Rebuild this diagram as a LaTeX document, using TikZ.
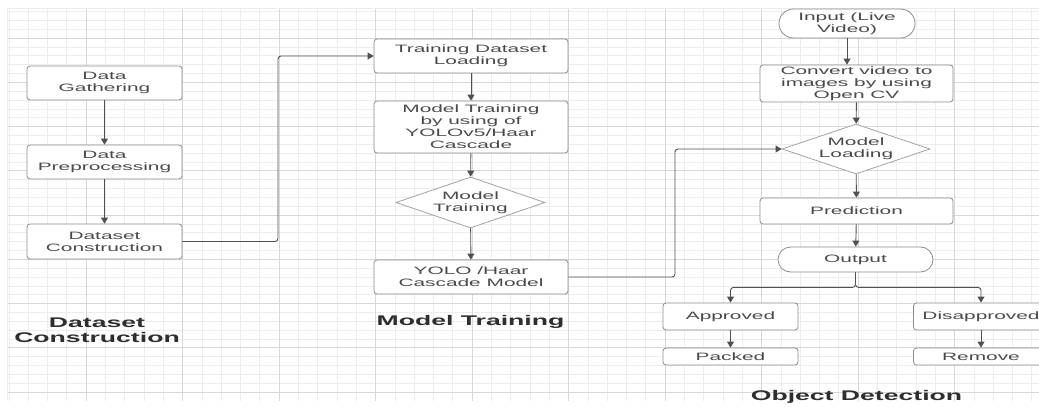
\documentclass[tikz,border=0pt]{standalone}
\usepackage{fontspec}
\setmainfont{Liberation Sans}
\newfontfamily\boxf{Liberation Sans}[FakeStretch=1.95]
\newfontfamily\labf{Liberation Sans}[FakeStretch=1.9]
\usetikzlibrary{arrows.meta,shapes.geometric,shapes.misc}
\definecolor{gminor}{HTML}{EDEDED}
\definecolor{gmajor}{HTML}{D8D8D8}
\definecolor{edgec}{HTML}{8C8C8C}
\definecolor{txtc}{HTML}{4A4A4A}
\definecolor{connc}{HTML}{505050}
\definecolor{labc}{HTML}{2E2E2E}
\begin{document}
\begin{tikzpicture}[x=1pt,y=-1pt,
  base/.style={draw=edgec, line width=0.8pt, fill=white, text=txtc,
    font=\boxf\fontsize{10.7}{12}\selectfont, align=center, inner sep=0pt},
  box/.style={base, rectangle, rounded corners=3pt},
  term/.style={base, rounded rectangle},
  dec/.style={base, diamond, draw=edgec!80, aspect=2.9},
  conn/.style={draw=connc, line width=0.9pt, rounded corners=3pt,
    -{Triangle[length=6pt,width=7pt]}},
  lab/.style={text=labc, font=\labf\bfseries\fontsize{14}{14.5}\selectfont, align=center, inner sep=0pt}
]
\useasboundingbox (0,0) rectangle (1039,407);
\fill[white] (0,0) rectangle (1039,407);
% grid
\begin{scope}
\clip (7,8) rectangle (1039,400);
\foreach \k in {0,...,53} \draw[gminor, line width=0.6pt] ({8.8+19.3*\k},0) -- ({8.8+19.3*\k},407);
\foreach \k in {0,...,44} \draw[gminor, line width=0.6pt] (0,{11.45+8.85*\k}) -- (1039,{11.45+8.85*\k});
\foreach \j in {0,...,9} \draw[gmajor, line width=0.7pt] ({86+96.5*\j},0) -- ({86+96.5*\j},407);
\foreach \j in {0,...,8} \draw[gmajor, line width=0.7pt] (0,{38+44.25*\j}) -- (1039,{38+44.25*\j});
\draw[gminor, line width=0.6pt] (7,8.3) -- (1039,8.3);
\draw[gminor, line width=0.6pt] (7.3,8) -- (7.3,400);
\end{scope}

% column 1
\node[box, minimum width=155pt, minimum height=34pt] (dg) at (104.5,83) {Data\\Gathering};
\node[box, minimum width=155pt, minimum height=34pt] (dp) at (104.5,162) {Data\\Preprocessing};
\node[box, minimum width=155pt, minimum height=35pt] (dc) at (104.5,241.5) {Dataset\\Construction};
\node[lab] (l1) at (97,330) {Dataset\\Construction};

% column 2
\node[box, minimum width=194pt, minimum height=34pt] (tdl) at (471,56) {Training Dataset\\Loading};
\node[box, minimum width=194pt, minimum height=52pt] (mtb) at (471,127) {Model Training\\by using of\\YOLOv5/Haar\\Cascade};
\node[dec, minimum width=149pt, minimum height=51pt] (mtd) at (470.5,202.5) {Model\\Training};
\node[box, minimum width=194pt, minimum height=34pt] (yolo) at (471,277) {YOLO /Haar\\Cascade Model};
\node[lab, anchor=base] (l2) at (470.5,325) {Model Training};

% column 3
\node[term, minimum width=136pt, minimum height=29pt] (inp) at (847,23.5) {Input (Live\\Video)};
\node[box, minimum width=193pt, minimum height=37pt] (cv) at (856.5,83.5) {Convert video to\\images by using\\Open CV};
\node[dec, minimum width=148pt, minimum height=50pt] (ml) at (856,149) {Model\\Loading};
\node[box, minimum width=193pt, minimum height=26pt] (pred) at (856.5,211) {Prediction};
\node[term, minimum width=155pt, minimum height=25pt] (out) at (855.5,259.5) {Output};
\node[box, minimum width=135pt, minimum height=27pt] (ap) at (730.5,316.5) {Approved};
\node[box, minimum width=135pt, minimum height=17pt] (pk) at (730.5,356.5) {Packed};
\node[box, minimum width=135pt, minimum height=27pt] (dis) at (981,316.5) {Disapproved};
\node[box, minimum width=135pt, minimum height=17pt] (rm) at (981,356.5) {Remove};
\node[lab, anchor=base] (l3) at (856.5,400) {Object Detection};

% connectors
\draw[conn] (dg) -- (dp);
\draw[conn] (dp) -- (dc);
\draw[conn] (dc.east) -- (278,241.5) -- (278,56) -- (tdl.west);
\draw[conn] (tdl) -- (mtb);
\draw[conn] (mtb) -- (mtd);
\draw[conn] (mtd) -- (yolo);
\draw[conn] (yolo.east) -- (675,277) -- (675,149) -- (ml.west);
\draw[conn] (inp.south) -- (inp.south |- cv.north);
\draw[conn] (cv) -- (ml);
\draw[conn] (ml) -- (pred);
\draw[conn] (pred) -- (out);
\draw[conn] (out.south) -- ++(0,15) -| (ap.north);
\draw[conn] (out.south) -- ++(0,15) -| (dis.north);
\draw[conn] (ap) -- (pk);
\draw[conn] (dis) -- (rm);
\end{tikzpicture}
\end{document}
